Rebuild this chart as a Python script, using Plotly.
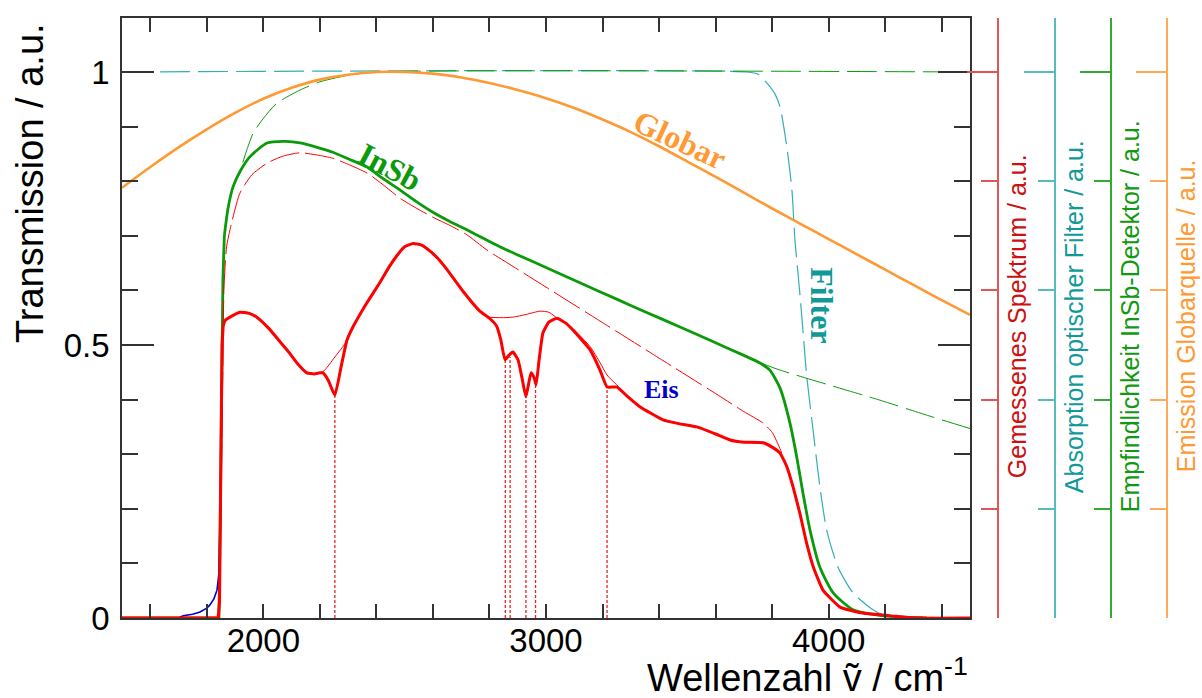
import plotly.graph_objects as go

# ---------------- data ----------------
globar_x = [1500, 1600, 1700, 1800, 1900, 2000, 2100, 2200, 2300, 2400, 2500, 2600, 2700, 2800,
            2900, 3000, 3100, 3200, 3300, 3400, 3500, 3600, 3700, 3800, 3900, 4000, 4100, 4200,
            4300, 4400, 4500]
globar_y = [0.788, 0.826, 0.862, 0.895, 0.925, 0.951, 0.971, 0.986, 0.995, 1.000, 1.000, 0.997,
            0.990, 0.980, 0.967, 0.952, 0.934, 0.913, 0.890, 0.864, 0.836, 0.808, 0.779, 0.750,
            0.722, 0.694, 0.666, 0.638, 0.610, 0.582, 0.555]

filter_x = [1500, 3711, 3750, 3781, 3810, 3828, 3852, 3870, 3881, 3898, 3910, 3922, 3946, 3969,
            3993, 4033, 4086, 4157, 4200, 4250]
filter_y = [1.000, 1.000, 0.996, 0.980, 0.960, 0.936, 0.863, 0.784, 0.690, 0.595, 0.520, 0.445,
            0.339, 0.240, 0.161, 0.093, 0.046, 0.015, 0.004, 0.000]

insb_x = [1500, 1843, 1848, 1852, 1857, 1862, 1875, 1893, 1920, 1953, 2013, 2080, 2130, 2190,
          2246, 2300, 2367, 2420, 2483, 2540, 2600, 2660, 2720, 2780, 2837, 2900, 3000, 3120,
          3250, 3350, 3474, 3600, 3700, 3757, 3792, 3828, 3863, 3887, 3909, 3934, 3969, 4016,
          4086, 4180, 4348]
insb_y = [0.000, 0.000, 0.200, 0.450, 0.620, 0.700, 0.750, 0.790, 0.820, 0.845, 0.870, 0.873,
          0.870, 0.862, 0.853, 0.841, 0.826, 0.806, 0.784, 0.763, 0.743, 0.726, 0.711, 0.695,
          0.680, 0.665, 0.642, 0.614, 0.584, 0.561, 0.533, 0.504, 0.481, 0.467, 0.454, 0.421,
          0.357, 0.295, 0.229, 0.161, 0.093, 0.046, 0.015, 0.005, 0.000]

insb_ideal_x = [1843, 1850, 1857, 1862, 1875, 1893, 1917, 1940, 1964, 2000, 2048, 2130, 2200,
                2300, 2400, 4500]
insb_ideal_y = [0.000, 0.300, 0.600, 0.700, 0.750, 0.790, 0.818, 0.855, 0.888, 0.915, 0.943,
                0.967, 0.982, 0.994, 1.000, 1.000]

insb_tail_x = [3760, 3828, 4000, 4181, 4350, 4500]
insb_tail_y = [0.467, 0.454, 0.427, 0.399, 0.371, 0.347]

expected_x = [1845, 1850, 1855, 1860, 1870, 1882, 1917, 1960, 2013, 2070, 2130, 2190, 2246, 2300,
              2367, 2420, 2483, 2540, 2600, 2660, 2720, 2791, 2883, 3000, 3200, 3400, 3600, 3700,
              3768, 3800, 3828, 3852, 3874, 3898, 3922, 3946, 3980, 4040, 4121, 4240, 4500]
expected_y = [0.000, 0.200, 0.450, 0.600, 0.680, 0.711, 0.778, 0.812, 0.833, 0.846, 0.852, 0.848,
              0.842, 0.831, 0.815, 0.795, 0.769, 0.751, 0.734, 0.719, 0.702, 0.674, 0.644, 0.606,
              0.541, 0.476, 0.411, 0.378, 0.357, 0.340, 0.310, 0.277, 0.240, 0.192, 0.137, 0.093,
              0.051, 0.020, 0.009, 0.003, 0.000]

measured_x = [1500, 1840, 1845, 1848, 1851, 1854, 1858, 1865, 1882, 1917, 1950, 1977, 2020, 2059,
              2090, 2119, 2154, 2180, 2200, 2211, 2230, 2253, 2275, 2296, 2317, 2360, 2413, 2445,
              2473, 2500, 2530, 2560, 2590, 2620, 2650, 2707, 2766, 2800, 2825, 2840, 2855, 2870,
              2883, 2901, 2915, 2929, 2947, 2958, 2965, 2975, 2989, 3010, 3039, 3070, 3096, 3156,
              3191, 3216, 3251, 3290, 3332, 3414, 3470, 3534, 3600, 3651, 3700, 3768, 3800, 3828,
              3852, 3874, 3898, 3922, 3946, 3980, 4040, 4121, 4240, 4300, 4500]
measured_y = [0.000, 0.000, 0.030, 0.150, 0.350, 0.500, 0.535, 0.545, 0.551, 0.560, 0.558, 0.551,
              0.530, 0.506, 0.487, 0.467, 0.449, 0.447, 0.449, 0.449, 0.435, 0.408, 0.460, 0.509,
              0.533, 0.572, 0.615, 0.643, 0.664, 0.680, 0.686, 0.683, 0.672, 0.657, 0.638, 0.598,
              0.562, 0.549, 0.535, 0.510, 0.473, 0.482, 0.487, 0.473, 0.440, 0.405, 0.449, 0.440,
              0.427, 0.470, 0.522, 0.542, 0.549, 0.540, 0.527, 0.491, 0.454, 0.423, 0.423, 0.405,
              0.387, 0.363, 0.356, 0.350, 0.337, 0.326, 0.322, 0.321, 0.313, 0.302, 0.277, 0.240,
              0.192, 0.137, 0.093, 0.051, 0.020, 0.009, 0.003, 0.000, 0.000]

ice_tail_x = [1700, 1716, 1750, 1776, 1800, 1811, 1825, 1836, 1843, 1848, 1852]
ice_tail_y = [0.000, 0.004, 0.007, 0.011, 0.018, 0.024, 0.035, 0.051, 0.082, 0.200, 0.400]

baseline_segments = [
    ([2190, 2211, 2253, 2280, 2299], [0.449, 0.451, 0.478, 0.496, 0.510]),
    ([2791, 2840, 2883, 2930, 2979, 3010, 3039], [0.551, 0.550, 0.551, 0.556, 0.562, 0.560, 0.549]),
    ([3096, 3156, 3191, 3216, 3260, 3300], [0.530, 0.497, 0.468, 0.445, 0.422, 0.400]),
]

band_x = [2253, 2856, 2873, 2929, 2963, 3216]
band_y = [0.408, 0.473, 0.478, 0.405, 0.427, 0.420]

x_ticks = [2000, 3000, 4000]
x_minor = [1600, 1800, 2200, 2400, 2600, 2800, 3200, 3400, 3600, 3800, 4200, 4400]
y_ticks = [0, 0.5, 1]
y_ticktext = ["0", "0.5", "1"]
y_minor = [0.1, 0.2, 0.3, 0.4, 0.6, 0.7, 0.8, 0.9]
side_ticks = [0, 1]
side_minor = [0.2, 0.4, 0.6, 0.8]

# ---------------- styling ----------------
RED = "#ff0000"
GREEN = "#0a9a0a"
ORANGE = "#ff9933"
TEAL = "#33b0b0"
BLUE = "#0000cc"
FRAME = "#333333"
YMAX = 1.0989

fig = go.Figure()


def _trace(x, y, color, width, yaxis, dash, shape, smoothing):
    fig.add_trace(go.Scatter(
        x=x, y=y, mode="lines", yaxis=yaxis, showlegend=False, hoverinfo="skip",
        line=dict(color=color, width=width, dash=dash, shape=shape,
                  smoothing=smoothing if shape == "spline" else None),
    ))


def line(x, y, color, width, yaxis="y", dash=None, onset=0, smoothing=0.6):
    """Steep onset (points up to index `onset`) drawn straight, the rest smoothed."""
    if onset > 0:
        _trace(x[:onset + 1], y[:onset + 1], color, width, yaxis, dash, "linear", None)
    _trace(x[onset:], y[onset:], color, width, yaxis, dash, "spline", smoothing)


# layer 1: filter
line(filter_x, filter_y, TEAL, 1.2, "y", dash="30px,8px")
# layer 2: detector (ideal), globar
line(insb_ideal_x, insb_ideal_y, GREEN, 1.0, "y2", dash="30px,8px", onset=3)
line(insb_tail_x, insb_tail_y, GREEN, 1.0, "y2", dash="30px,8px")
line(globar_x, globar_y, ORANGE, 2.6, "y2")
# layer 3: detector x filter
line(insb_x, insb_y, GREEN, 2.8, "y3", onset=5)
# layer 4: expected spectrum, ice, band markers, baseline
line(expected_x, expected_y, RED, 1.0, "y4", dash="30px,6px", onset=3)
blue_x = ice_tail_x + [v for v in measured_x if v > 1852]
blue_y = ice_tail_y + [measured_y[i] for i, v in enumerate(measured_x) if v > 1852]
line(blue_x, blue_y, BLUE, 1.6, "y4", onset=len(ice_tail_x) + 1, smoothing=0.4)
vx, vy = [], []
for bx, by in zip(band_x, band_y):
    vx += [bx, bx, None]
    vy += [0, by, None]
fig.add_trace(go.Scatter(x=vx, y=vy, mode="lines", yaxis="y4", showlegend=False,
                         hoverinfo="skip", line=dict(color="#ee2222", width=1.3, dash="3px,2px")))
for sx, sy in baseline_segments:
    line(sx, sy, RED, 1.0, "y4")
# layer 5: measured spectrum
line(measured_x, measured_y, RED, 3.0, "y5", onset=6, smoothing=0.4)

# ---------------- axes ----------------
fig.update_layout(
    width=1202, height=698,
    margin=dict(l=122, r=20, t=18, b=80),
    paper_bgcolor="white", plot_bgcolor="white",
    font=dict(family="Liberation Sans, Arial, sans-serif", size=33, color="black"),
    xaxis=dict(domain=[0, 0.8], range=[1500, 4500], showgrid=False, zeroline=False,
               showline=True, linecolor=FRAME, linewidth=1.5, mirror="allticks",
               tickvals=x_ticks, ticks="inside", ticklen=14, tickwidth=1.5, tickcolor=FRAME,
               minor=dict(tickvals=x_minor, ticks="inside", ticklen=7, tickwidth=1.5,
                          tickcolor=FRAME, showgrid=False),
               tickfont=dict(size=33), ticklabelstandoff=-7),
    yaxis=dict(range=[0, YMAX], showgrid=False, zeroline=False,
               showline=True, linecolor=FRAME, linewidth=1.5, mirror="allticks",
               tickvals=y_ticks, ticktext=y_ticktext, ticks="inside", ticklen=32,
               tickwidth=1.5, tickcolor=FRAME,
               minor=dict(tickvals=y_minor, ticks="inside", ticklen=16, tickwidth=1.5,
                          tickcolor=FRAME, showgrid=False),
               tickfont=dict(size=33), ticklabelstandoff=4),
)

side_axes = [
    ("yaxis2", 0.82642, "#e05555"),
    ("yaxis3", 0.88019, "#55bbbb"),
    ("yaxis4", 0.93302, "#33aa33"),
    ("yaxis5", 0.98585, "#ffaa55"),
]
for name, pos, col in side_axes:
    fig.update_layout(**{name: dict(
        overlaying="y", anchor="free", position=pos, side="right", range=[0, YMAX],
        showgrid=False, zeroline=False, showline=True, linecolor=col, linewidth=1.5,
        tickvals=side_ticks, ticks="inside", ticklen=30, tickwidth=1.5, tickcolor=col,
        showticklabels=False,
        minor=dict(tickvals=side_minor, ticks="inside", ticklen=16, tickwidth=1.5,
                   tickcolor=col, showgrid=False),
    )})

# ---------------- text ----------------
sans = "Liberation Sans, Arial, sans-serif"
serif = "Liberation Serif, Times New Roman, serif"
ann = []
ann.append(dict(text="Transmission / a.u.", xref="paper", yref="paper", x=-0.0868, y=0.725,
                xanchor="center", yanchor="middle", textangle=-90, showarrow=False,
                font=dict(family=sans, size=38, color="black")))
ann.append(dict(text="Wellenzahl ṽ / cm<sup>-1</sup>", xref="paper", yref="paper", x=0.8,
                y=-0.138, xanchor="right", yanchor="bottom", showarrow=False,
                font=dict(family=sans, size=38, color="black")))
side_titles = [
    ("Gemessenes Spektrum / a.u.", 0.8443, "#cc1111"),
    ("Absorption optischer Filter / a.u.", 0.8981, "#119999"),
    ("Empfindlichkeit InSb-Detektor / a.u.", 0.9509, "#119911"),
    ("Emission Globarquelle / a.u.", 1.0038, "#ff9933"),
]
for txt, xp, col in side_titles:
    ann.append(dict(text=txt, xref="paper", yref="paper", x=xp, y=0.503, xanchor="center",
                    yanchor="middle", textangle=-90, showarrow=False,
                    font=dict(family=sans, size=25, color=col)))
labels = [
    ("Globar", 3474, 0.875, 25, ORANGE, 32),
    ("InSb", 2448, 0.826, 28, GREEN, 32),
    ("Filter", 3976, 0.573, 90, "#119999", 32),
    ("Eis", 3410, 0.418, 0, BLUE, 26),
]
for txt, lx, ly, ang, col, sz in labels:
    ann.append(dict(text=txt, x=lx, y=ly, xref="x", yref="y", xanchor="center",
                    yanchor="middle", textangle=ang, showarrow=False,
                    font=dict(family=serif, size=sz, color=col, weight="bold")))
fig.update_layout(annotations=ann)

# remove the browser's default 8px body margin so the 1202x698 figure fills the window
fig.write_html("out.html", config={"displayModeBar": False},
               post_script="document.body.style.margin='0';"
                           "document.body.style.overflow='hidden';")
